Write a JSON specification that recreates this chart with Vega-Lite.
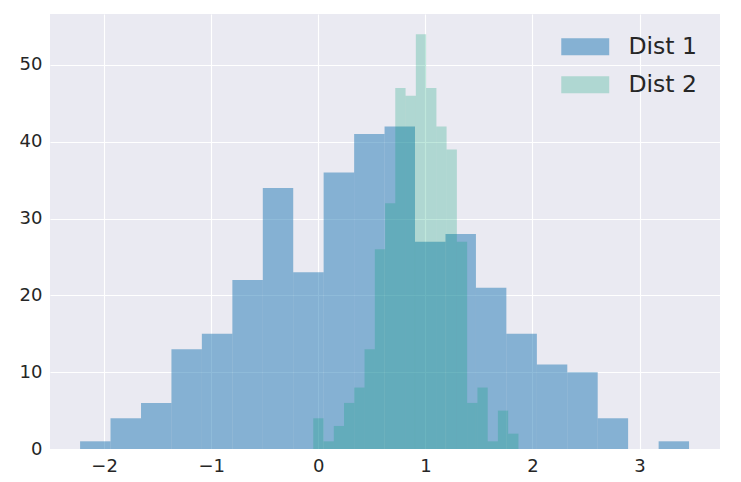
{
  "$schema": "https://vega.github.io/schema/vega-lite/v6.json",
  "width": 670,
  "height": 435,
  "autosize": {"type": "none"},
  "padding": {"left": 50, "top": 14, "right": 21, "bottom": 33},
  "background": "white",
  "config": {
    "view": {"fill": "#EAEAF2", "stroke": null},
    "font": "DejaVu Sans",
    "axis": {
      "domain": false,
      "ticks": false,
      "grid": true,
      "gridColor": "white",
      "gridWidth": 1.1,
      "labelFont": "DejaVu Sans",
      "labelFontSize": 18,
      "labelColor": "#262626",
      "labelPadding": 8,
      "title": null
    }
  },
  "data": {
    "values": [
      {"dist": "Dist 1", "start": -2.224, "end": -1.940, "count": 1},
      {"dist": "Dist 1", "start": -1.940, "end": -1.655, "count": 4},
      {"dist": "Dist 1", "start": -1.655, "end": -1.371, "count": 6},
      {"dist": "Dist 1", "start": -1.371, "end": -1.087, "count": 13},
      {"dist": "Dist 1", "start": -1.087, "end": -0.802, "count": 15},
      {"dist": "Dist 1", "start": -0.802, "end": -0.518, "count": 22},
      {"dist": "Dist 1", "start": -0.518, "end": -0.234, "count": 34},
      {"dist": "Dist 1", "start": -0.234, "end": 0.050, "count": 23},
      {"dist": "Dist 1", "start": 0.050, "end": 0.335, "count": 36},
      {"dist": "Dist 1", "start": 0.335, "end": 0.619, "count": 41},
      {"dist": "Dist 1", "start": 0.619, "end": 0.903, "count": 42},
      {"dist": "Dist 1", "start": 0.903, "end": 1.188, "count": 27},
      {"dist": "Dist 1", "start": 1.188, "end": 1.472, "count": 28},
      {"dist": "Dist 1", "start": 1.472, "end": 1.756, "count": 21},
      {"dist": "Dist 1", "start": 1.756, "end": 2.041, "count": 15},
      {"dist": "Dist 1", "start": 2.041, "end": 2.325, "count": 11},
      {"dist": "Dist 1", "start": 2.325, "end": 2.609, "count": 10},
      {"dist": "Dist 1", "start": 2.609, "end": 2.893, "count": 4},
      {"dist": "Dist 1", "start": 2.893, "end": 3.178, "count": 0},
      {"dist": "Dist 1", "start": 3.178, "end": 3.462, "count": 1},
      {"dist": "Dist 2", "start": -0.047, "end": 0.049, "count": 4},
      {"dist": "Dist 2", "start": 0.049, "end": 0.145, "count": 1},
      {"dist": "Dist 2", "start": 0.145, "end": 0.240, "count": 3},
      {"dist": "Dist 2", "start": 0.240, "end": 0.336, "count": 6},
      {"dist": "Dist 2", "start": 0.336, "end": 0.432, "count": 8},
      {"dist": "Dist 2", "start": 0.432, "end": 0.528, "count": 13},
      {"dist": "Dist 2", "start": 0.528, "end": 0.624, "count": 26},
      {"dist": "Dist 2", "start": 0.624, "end": 0.719, "count": 32},
      {"dist": "Dist 2", "start": 0.719, "end": 0.815, "count": 47},
      {"dist": "Dist 2", "start": 0.815, "end": 0.911, "count": 46},
      {"dist": "Dist 2", "start": 0.911, "end": 1.007, "count": 54},
      {"dist": "Dist 2", "start": 1.007, "end": 1.103, "count": 47},
      {"dist": "Dist 2", "start": 1.103, "end": 1.198, "count": 42},
      {"dist": "Dist 2", "start": 1.198, "end": 1.294, "count": 39},
      {"dist": "Dist 2", "start": 1.294, "end": 1.390, "count": 27},
      {"dist": "Dist 2", "start": 1.390, "end": 1.486, "count": 6},
      {"dist": "Dist 2", "start": 1.486, "end": 1.582, "count": 8},
      {"dist": "Dist 2", "start": 1.582, "end": 1.677, "count": 1},
      {"dist": "Dist 2", "start": 1.677, "end": 1.773, "count": 5},
      {"dist": "Dist 2", "start": 1.773, "end": 1.869, "count": 2}
    ]
  },
  "mark": {"type": "rect", "strokeWidth": 0},
  "encoding": {
    "x": {
      "field": "start",
      "type": "quantitative",
      "scale": {"domain": [-2.505, 3.751], "nice": false, "zero": false},
      "axis": {"values": [-2, -1, 0, 1, 2, 3], "labelPadding": 8}
    },
    "x2": {"field": "end"},
    "y": {
      "field": "count",
      "type": "quantitative",
      "stack": null,
      "scale": {"domain": [0, 56.64], "nice": false},
      "axis": {"values": [0, 10, 20, 30, 40, 50]}
    },
    "y2": {"datum": 0},
    "color": {
      "field": "dist",
      "type": "nominal",
      "scale": {"domain": ["Dist 1", "Dist 2"], "range": ["#1f77b4", "#009e73"]},
      "legend": {
        "title": null,
        "orient": "none",
        "legendX": 523.5,
        "legendY": 21,
        "padding": 0,
        "symbolType": "M-2.82,-1H2.82V1H-2.82Z",
        "symbolSize": 289,
        "symbolStrokeWidth": 0,
        "labelOffset": 31.5,
        "labelFontSize": 23.5,
        "labelFont": "DejaVu Sans",
        "labelColor": "#262626",
        "rowPadding": 13
      }
    },
    "opacity": {
      "field": "dist",
      "type": "nominal",
      "scale": {"domain": ["Dist 1", "Dist 2"], "range": [0.5, 0.25]},
      "legend": {
        "title": null,
        "orient": "none",
        "legendX": 523.5,
        "legendY": 21,
        "padding": 0,
        "symbolType": "M-2.82,-1H2.82V1H-2.82Z",
        "symbolSize": 289,
        "symbolStrokeWidth": 0,
        "labelOffset": 31.5,
        "labelFontSize": 23.5,
        "labelFont": "DejaVu Sans",
        "labelColor": "#262626",
        "rowPadding": 13
      }
    }
  }
}
